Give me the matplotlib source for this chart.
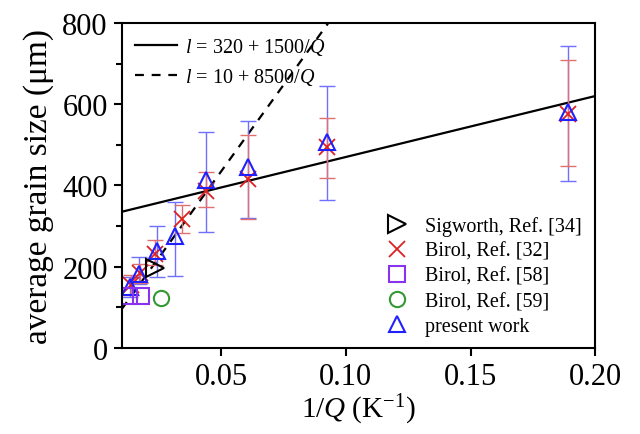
import matplotlib
matplotlib.use("Agg")
import matplotlib.pyplot as plt
from matplotlib.ticker import MultipleLocator
from matplotlib.lines import Line2D
import numpy as np

plt.rcParams['font.family'] = ['Liberation Serif', 'DejaVu Serif']
plt.rcParams['mathtext.fontset'] = 'custom'
plt.rcParams['mathtext.rm'] = 'Liberation Serif'
plt.rcParams['mathtext.it'] = 'Liberation Serif:italic'

# present work (blue triangles) with error bars
pw_x = [0.0135, 0.0168, 0.0242, 0.0313, 0.0440, 0.0606, 0.0924, 0.1890]
pw_y = [150, 182, 238, 276, 414, 445, 507, 581]
pw_lo = [125, 158, 175, 178, 286, 320, 364, 411]
pw_hi = [175, 224, 299, 360, 532, 558, 645, 743]

# Birol, Ref. [32] (red crosses) with error bars
b32_x = [0.0137, 0.0175, 0.0232, 0.0343, 0.0440, 0.0606, 0.0924, 0.1890]
b32_y = [155, 185, 231, 318, 386, 416, 495, 576]
b32_lo = [130, 160, 205, 283, 347, 318, 418, 448]
b32_hi = [180, 207, 266, 352, 434, 523, 566, 709]

# Sigworth, Ref. [34]
sig_x = [0.0235]
sig_y = [196]

# Birol, Ref. [58]
b58_x = [0.0131, 0.0178]
b58_y = [128, 128]

# Birol, Ref. [59]
b59_x = [0.0257]
b59_y = [124]

# fit lines l = a + b/Q
fit_solid = (320, 1500)
fit_dash = (10, 8500)

fig = plt.figure(figsize=(6.4, 4.35), dpi=100)
ax = fig.add_axes([0.19, 0.198, 0.74, 0.747])

xq = np.linspace(0.01, 0.2, 200)
ln1, = ax.plot(xq, fit_solid[0] + fit_solid[1] * xq, color='black', lw=1.6)
ln2, = ax.plot(xq, fit_dash[0] + fit_dash[1] * xq, color='black', lw=1.6,
               ls=(0, (4, 3.5)))

def errs(y, lo, hi):
    y = np.array(y)
    return [y - np.array(lo), np.array(hi) - y]

ax.errorbar(pw_x, pw_y, yerr=errs(pw_y, pw_lo, pw_hi), fmt='none',
            ecolor='#7070ff', elinewidth=1.0, capsize=6, capthick=1.0)
ax.errorbar(b32_x, b32_y, yerr=errs(b32_y, b32_lo, b32_hi), fmt='none',
            ecolor='#e07070', elinewidth=1.0, capsize=6, capthick=1.0)

ax.plot(b32_x, b32_y, 'x', color='#dd2020', ms=12, mew=1.3, ls='none')
ax.plot(pw_x, pw_y, '^', mfc='none', mec='#2020ff', ms=12, mew=1.5, ls='none')
ax.plot(sig_x, sig_y, '>', mfc='none', mec='black', ms=13, mew=1.5, ls='none')
ax.plot(b58_x, b58_y, 's', mfc='none', mec='#8833ee', ms=11, mew=1.5, ls='none')
ax.plot(b59_x, b59_y, 'o', mfc='none', mec='#339933', ms=11, mew=1.5, ls='none')

ax.set_xlim(0.01, 0.2)
ax.set_ylim(0, 800)
ax.yaxis.set_major_locator(MultipleLocator(200))
ax.yaxis.set_minor_locator(MultipleLocator(100))
ax.set_xticks([0.05, 0.10, 0.15, 0.20])
ax.set_xticklabels(['0.05', '0.10', '0.15', '0.20'])
ax.tick_params(axis='both', which='major', direction='out', length=6, width=1.5,
               labelsize=22, pad=4)
ax.tick_params(axis='both', which='minor', direction='out', length=4, width=1.5)
for s in ax.spines.values():
    s.set_linewidth(1.5)

ax.set_xlabel('1/$Q$ (K$^{\\mathregular{-1}}$)', fontsize=21, labelpad=1)
ax.set_ylabel('average grain size (μm)', fontsize=24, labelpad=6)

leg1 = ax.legend([ln1, ln2],
                 ['$l$ = 320 + 1500/$Q$', '$l$ = 10 + 8500/$Q$'],
                 loc='upper left', frameon=False, fontsize=14.5,
                 handlelength=2.1, borderaxespad=0.25, labelspacing=0.45,
                 handletextpad=0.4)
ax.add_artist(leg1)

handles = [
    Line2D([], [], marker='>', mfc='none', mec='black', ms=13, mew=1.5, ls='none'),
    Line2D([], [], marker='x', color='#dd2020', ms=12, mew=1.3, ls='none'),
    Line2D([], [], marker='s', mfc='none', mec='#8833ee', ms=11, mew=1.5, ls='none'),
    Line2D([], [], marker='o', mfc='none', mec='#339933', ms=11, mew=1.5, ls='none'),
    Line2D([], [], marker='^', mfc='none', mec='#2020ff', ms=12, mew=1.5, ls='none'),
]
labels = ['Sigworth, Ref. [34]', 'Birol, Ref. [32]', 'Birol, Ref. [58]',
          'Birol, Ref. [59]', 'present work']
ax.legend(handles, labels, loc='lower right', frameon=False, fontsize=14.5,
          labelspacing=0.3, handletextpad=0.4, bbox_to_anchor=(1.01, -0.02))

fig.savefig('out.png', dpi=100)
